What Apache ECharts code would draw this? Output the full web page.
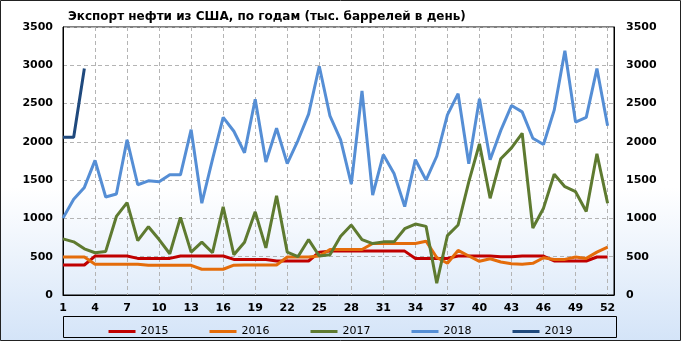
<!DOCTYPE html>
<html><head><meta charset="utf-8">
<script src="https://cdn.jsdelivr.net/npm/echarts@6/dist/echarts.min.js"></script>
<style>html,body{margin:0;padding:0;background:#fff}#c{width:681px;height:341px}</style>
</head><body><div id="c"></div>
<script>
const titleText = 'Экспорт нефти из США, по годам (тыс. баррелей в день)';
const weeks = Array.from({length: 52}, (_, i) => i + 1);
const seriesNames = ['2015', '2016', '2017', '2018', '2019'];
const colors = ['#C00000', '#E46C0A', '#5E7A30', '#558ED5', '#1F497D'];
const y2015 = [392,392,392,509,509,509,509,478,478,478, 478,509,509,509,509,509,465,465,465,465, 444,444,444,444,560,573,573,573,573,573, 573,573,573,478,478,478,478,509,509,509, 509,500,500,509,509,509,444,444,444,444, 496,496];
const y2016 = [496,496,496,401,401,401,401,401,388,388, 388,388,388,336,336,336,390,392,392,392, 392,496,496,496,509,595,595,595,595,672, 672,672,672,672,703,490,414,582,509,440, 474,431,409,401,414,487,465,465,496,478, 560,625];
const y2017 = [733,694,603,552,569,1026,1207,711,892,724, 539,1013,560,690,552,1151,526,690,1086,616, 1297,560,500,724,509,526,767,914,724,672, 694,694,866,927,896,153,776,914,1478,1974, 1263,1780,1922,2112,875,1134,1577,1414,1349,1090, 1845,1198];
const y2018 = [1004,1250,1405,1758,1280,1319,2026,1440,1491,1478, 1569,1569,2159,1198,1771,2319,2138,1858,2556,1737, 2177,1715,2017,2362,2987,2340,2026,1448,2664,1306, 1832,1586,1155,1767,1500,1812,2353,2629,1715,2564, 1767,2150,2474,2392,2047,1965,2414,3189,2258,2319, 2957,2211];
const y2019 = [2060,2060,2957];
const allValues = [y2015, y2016, y2017, y2018, y2019];

const chart = echarts.init(document.getElementById('c'), null, {renderer: 'canvas'});
const font = 'DejaVu Sans';
const option = {
  animation: false,
  backgroundColor: {type: 'linear', x: 0, y: 0, x2: 0, y2: 1, colorStops: [
    {offset: 0, color: '#ffffff'}, {offset: 0.55, color: '#ffffff'}, {offset: 1, color: '#d4e4f8'}]},
  title: {text: titleText, left: 63, top: 6,
    textStyle: {fontFamily: font, fontSize: 12, fontWeight: 'bold', color: '#000'}},
  grid: {left: 63, right: 67, top: 27, bottom: 46, show: true, borderColor: '#000', borderWidth: 1, backgroundColor: 'transparent'},
  legend: {
    data: seriesNames, top: 321, left: 'center', itemWidth: 27, itemHeight: 3, itemGap: 41,
    icon: 'rect',
    textStyle: {fontFamily: font, fontSize: 11, color: '#000', padding: [0, 0, 0, 0]}
  },
  xAxis: {
    type: 'value', min: 1, max: 52.6, interval: 3,
    axisLine: {show: true, lineStyle: {color: '#000'}},
    axisTick: {show: false},
    axisLabel: {showMaxLabel: false, fontFamily: font, fontSize: 11, fontWeight: 'bold', color: '#000', margin: 8,
      formatter: v => (Number.isInteger(v) ? String(v) : '')},
    splitLine: {show: true, lineStyle: {color: '#b4b4b4', type: [4, 3], width: 1}}
  },
  yAxis: [
    {type: 'value', min: 0, max: 3500, interval: 500, position: 'left',
      axisLine: {show: true, lineStyle: {color: '#000'}}, axisTick: {show: false},
      axisLabel: {fontFamily: font, fontSize: 11, fontWeight: 'bold', color: '#000', margin: 10, formatter: v => String(v)},
      splitLine: {show: true, lineStyle: {color: '#b4b4b4', type: [4, 3], width: 1}}},
    {type: 'value', min: 0, max: 3500, interval: 500, position: 'right',
      axisLine: {show: true, lineStyle: {color: '#000'}}, axisTick: {show: false},
      axisLabel: {fontFamily: font, fontSize: 11, fontWeight: 'bold', color: '#000', margin: 12, formatter: v => String(v)},
      splitLine: {show: false}}
  ],
  series: seriesNames.map((n, i) => ({
    name: n, type: 'line', yAxisIndex: 0, showSymbol: false, symbol: 'none',
    color: colors[i],
    lineStyle: {width: 3, color: colors[i]},
    data: allValues[i].map((v, j) => [weeks[j], v])
  })),
  graphic: [
    {type: 'rect', shape: {x: 63.5, y: 316.5, width: 553, height: 21}, style: {fill: 'none', stroke: '#000', lineWidth: 1}, silent: true},
    {type: 'rect', shape: {x: 0.5, y: 0.5, width: 680, height: 340}, style: {fill: 'none', stroke: '#222', lineWidth: 1}, silent: true}
  ]
};
chart.setOption(option);
</script></body></html>
